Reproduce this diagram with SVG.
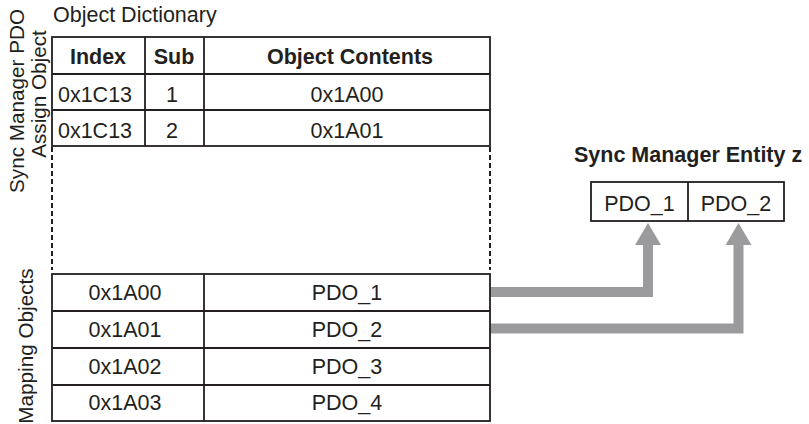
<svg xmlns="http://www.w3.org/2000/svg" width="809" height="424" viewBox="0 0 809 424">
  <defs>
    <style>
      text { font-family: "Liberation Sans", Arial, sans-serif; fill: #231f20; }
      .t { font-size: 21.5px; }
      .b { font-size: 21.5px; font-weight: bold; }
      .v { font-size: 20.7px; text-anchor: middle; }
      .m { text-anchor: middle; }
      .cell { fill: #ffffff; stroke: #231f20; stroke-width: 1.8; }
      .ln { stroke: #231f20; stroke-width: 1.8; fill: none; }
      .dash { stroke: #231f20; stroke-width: 2; stroke-dasharray: 5 3; fill: none; }
      .arrow { stroke: #9b9b9d; stroke-width: 10; fill: none; stroke-linejoin: miter; stroke-linecap: butt; marker-end: url(#head); }
    </style>
    <marker id="head" markerUnits="userSpaceOnUse" markerWidth="22" markerHeight="26" viewBox="0 0 22 26" refX="0" refY="13" orient="auto">
      <path d="M0,0 L22,13 L0,26 Z" fill="#9b9b9d"/>
    </marker>
  </defs>

  <rect width="809" height="424" fill="#ffffff"/>

  <!-- Labels -->
  <g id="labels">
    <text class="t" x="53" y="22">Object Dictionary</text>
    <text class="v" transform="translate(24,101) rotate(-90)">Sync Manager PDO</text>
    <text class="v" transform="translate(46,94) rotate(-90)">Assign Object</text>
    <text class="v" transform="translate(33,346) rotate(-90)">Mapping Objects</text>
  </g>

  <!-- Assign object table -->
  <g id="assign-table">
    <rect class="cell" x="52" y="37" width="438" height="109"/>
    <line class="ln" x1="52" y1="74" x2="490" y2="74"/>
    <line class="ln" x1="52" y1="110" x2="490" y2="110"/>
    <line class="ln" x1="145" y1="37" x2="145" y2="146"/>
    <line class="ln" x1="204" y1="37" x2="204" y2="146"/>
    <text class="b m" x="98" y="64">Index</text>
    <text class="b m" x="174" y="64">Sub</text>
    <text class="b m" x="350" y="64">Object Contents</text>
    <text class="t m" x="95" y="102">0x1C13</text>
    <text class="t m" x="172" y="102">1</text>
    <text class="t m" x="347" y="102">0x1A00</text>
    <text class="t m" x="95" y="138">0x1C13</text>
    <text class="t m" x="172" y="138">2</text>
    <text class="t m" x="347" y="138">0x1A01</text>
  </g>

  <g id="dashed-sides">
    <line class="dash" x1="52" y1="147" x2="52" y2="270"/>
    <line class="dash" x1="490" y1="147" x2="490" y2="270"/>
  </g>

  <!-- Connectors -->
  <g id="connectors">
    <polyline class="arrow" points="490,292 648,292 648,245"/>
    <polyline class="arrow" points="490,328.5 738.5,328.5 738.5,245"/>
  </g>

  <!-- Mapping objects table -->
  <g id="mapping-table">
    <rect class="cell" x="52" y="274" width="438" height="147"/>
    <line class="ln" x1="52" y1="311" x2="490" y2="311"/>
    <line class="ln" x1="52" y1="348" x2="490" y2="348"/>
    <line class="ln" x1="52" y1="385" x2="490" y2="385"/>
    <line class="ln" x1="204" y1="274" x2="204" y2="421"/>
    <text class="t m" x="125" y="300">0x1A00</text>
    <text class="t m" x="347" y="300">PDO_1</text>
    <text class="t m" x="125" y="337">0x1A01</text>
    <text class="t m" x="347" y="337">PDO_2</text>
    <text class="t m" x="125" y="374">0x1A02</text>
    <text class="t m" x="347" y="374">PDO_3</text>
    <text class="t m" x="125" y="410">0x1A03</text>
    <text class="t m" x="347" y="410">PDO_4</text>
  </g>

  <!-- Sync Manager Entity z -->
  <g id="sync-manager-entity">
    <text class="b" x="574" y="162">Sync Manager Entity z</text>
    <rect class="cell" x="591" y="182" width="193" height="39"/>
    <line class="ln" x1="688" y1="182" x2="688" y2="221"/>
    <text class="t m" x="639.5" y="211">PDO_1</text>
    <text class="t m" x="736" y="211">PDO_2</text>
  </g>
</svg>
